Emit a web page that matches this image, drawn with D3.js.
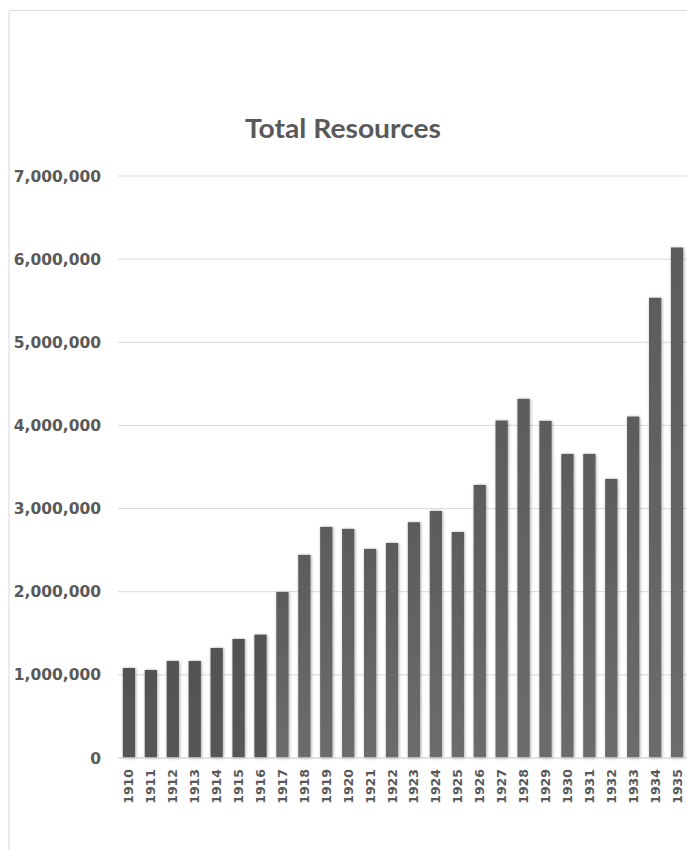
<!DOCTYPE html>
<html>
<head>
<meta charset="utf-8">
<script src="https://cdn.jsdelivr.net/npm/d3@7"></script>
<style>
  html, body { margin: 0; padding: 0; background: #fff; }
  svg { display: block; }
</style>
</head>
<body>
<svg id="chart" width="687" height="850"></svg>
<script>
// Total resources per year
const years = ["1910","1911","1912","1913","1914","1915","1916","1917","1918","1919","1920","1921","1922",
               "1923","1924","1925","1926","1927","1928","1929","1930","1931","1932","1933","1934","1935"];
const totals = [1077000,1053000,1161000,1161000,1318000,1426000,1478000,1991000,2437000,2774000,2750000,2509000,2581000,
                2830000,2966000,2713000,3279000,4053000,4314000,4049000,3652000,3652000,3351000,4101000,5529000,6134000];
const yTicks = [0,1000000,2000000,3000000,4000000,5000000,6000000,7000000];
const chartTitle = "Total Resources";

const svg = d3.select("#chart");
const W = 687, H = 850;
const plot = { left: 118, right: 688, top: 175.5, bottom: 757.5 };

// frame of the chart area (right and bottom edges run past the page)
svg.append("path")
  .attr("d", `M9,${H} L9,10.5 L${W},10.5`)
  .attr("fill", "none").attr("stroke", "#d9d9d9").attr("stroke-width", 1);

const defs = svg.append("defs");
const shadow = defs.append("filter").attr("id", "barShadow")
  .attr("x", "-50%").attr("y", "-10%").attr("width", "200%").attr("height", "120%");
shadow.append("feDropShadow").attr("dx", 0.8).attr("dy", 0.5)
  .attr("stdDeviation", 1.4).attr("flood-color", "#000").attr("flood-opacity", 0.35);

const gradDark = defs.append("linearGradient").attr("id", "gDark")
  .attr("x1", 0).attr("y1", 0).attr("x2", 0).attr("y2", 1);
gradDark.append("stop").attr("offset", "0%").attr("stop-color", "#525252");
gradDark.append("stop").attr("offset", "100%").attr("stop-color", "#575757");
const gradLight = defs.append("linearGradient").attr("id", "gLight")
  .attr("x1", 0).attr("y1", 0).attr("x2", 0).attr("y2", 1);
gradLight.append("stop").attr("offset", "0%").attr("stop-color", "#5c5c5c");
gradLight.append("stop").attr("offset", "100%").attr("stop-color", "#6c6c6c");

const x = d3.scaleBand().domain(years).range([plot.left, plot.right]).paddingInner(0.44).paddingOuter(0.22);
const y = d3.scaleLinear().domain([0, 7000000]).range([plot.bottom, plot.top]);

// title
svg.append("text")
  .attr("x", 343).attr("y", 138)
  .attr("text-anchor", "middle")
  .attr("font-family", "Lato, 'Open Sans', sans-serif")
  .attr("font-weight", 700)
  .attr("font-size", 27)
  .attr("textLength", 196)
  .attr("lengthAdjust", "spacingAndGlyphs")
  .attr("fill", "#595959")
  .text(chartTitle);

// gridlines and y labels
const yAxis = d3.axisLeft(y).tickValues(yTicks).tickSize(0).tickPadding(0).tickFormat(d3.format(","));
const gy = svg.append("g").attr("transform", `translate(${plot.left},0)`).call(yAxis);
gy.select(".domain").remove();
gy.selectAll(".tick line")
  .attr("x2", plot.right - plot.left)
  .attr("stroke", "#d9d9d9").attr("stroke-width", 1);
gy.selectAll(".tick text")
  .attr("x", 101 - plot.left)
  .attr("dy", "0.36em")
  .attr("font-family", "'DejaVu Sans', sans-serif")
  .attr("font-weight", 700)
  .attr("font-size", 15.5)
  .attr("fill", "#595959");

// bars
svg.append("g").selectAll("rect")
  .data(years.map((yr, i) => ({ yr, v: totals[i], i })))
  .join("rect")
  .attr("x", d => x(d.yr))
  .attr("width", x.bandwidth())
  .attr("y", d => y(d.v))
  .attr("height", d => y(0) - y(d.v))
  .attr("fill", d => d.i < 7 ? "url(#gDark)" : "url(#gLight)")
  .attr("filter", "url(#barShadow)");

// baseline and x labels
const xAxis = d3.axisBottom(x).tickSize(0).tickPadding(0);
const gx = svg.append("g").attr("transform", `translate(0,${plot.bottom})`).call(xAxis);
gx.select(".domain")
  .attr("d", `M${plot.left},0.5H${plot.right}`)
  .attr("stroke", "#d9d9d9").attr("stroke-width", 1);
gx.selectAll(".tick text")
  .attr("transform", "rotate(-90)")
  .attr("x", -11.5).attr("y", 0).attr("dy", "0.36em")
  .attr("text-anchor", "end")
  .attr("font-family", "'DejaVu Sans', sans-serif")
  .attr("font-weight", 700)
  .attr("font-size", 12.5)
  .attr("fill", "#595959");
</script>
</body>
</html>
